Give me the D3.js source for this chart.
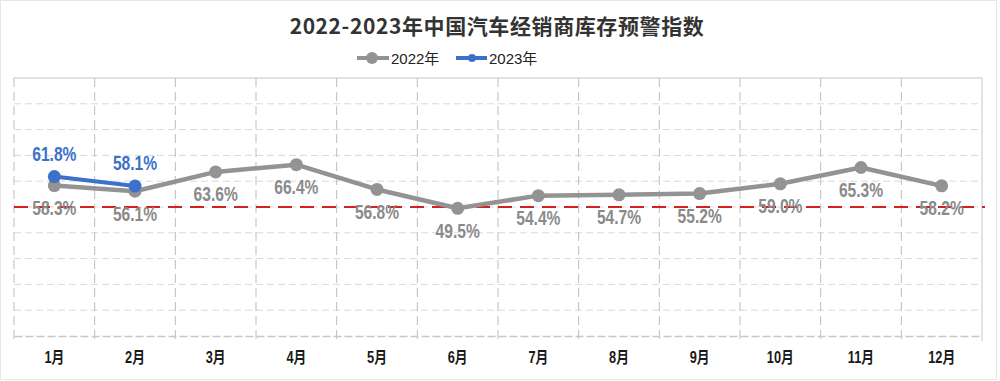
<!DOCTYPE html>
<html><head><meta charset="utf-8">
<script src="https://cdn.jsdelivr.net/npm/d3@7"></script>
<style>
html,body{margin:0;padding:0;background:#fff;}
svg{display:block;}
</style></head>
<body>
<svg id="chart" width="1000" height="381"></svg>
<script>
const months = ["1月","2月","3月","4月","5月","6月","7月","8月","9月","10月","11月","12月"];
const values2022 = [58.3,56.1,63.6,66.4,56.8,49.5,54.4,54.7,55.2,59.0,65.3,58.2];
const values2023 = [61.8,58.1];
const yTicks = [0,10,20,30,40,50,60,70,80,90,100];
const warningLine = 50;
const seriesNames = ["2022年","2023年"];
const titleText = "2022-2023年中国汽车经销商库存预警指数";

const svg = d3.select("#chart");
const W = 1000, H = 381;
const m = {left:14, right:18, top:78, bottom:45};
const iw = W - m.left - m.right, ih = H - m.top - m.bottom;
const narrow = "'Liberation Sans','Arial','Noto Sans CJK SC',sans-serif";
const squeeze = 0.78;

// outer faint frame
svg.append("rect").attr("x",0.5).attr("y",0.5).attr("width",996).attr("height",379)
  .attr("fill","#fff").attr("stroke","#e6e6e6");

const g = svg.append("g").attr("transform",`translate(${m.left},${m.top})`);
const x = d3.scaleBand().domain(months).range([0,iw]).padding(0);
const y = d3.scaleLinear().domain([0,100]).range([ih,0]);

// horizontal gridlines
g.append("g").selectAll("line").data(yTicks.slice(1,-1)).join("line")
  .attr("x1",0).attr("x2",iw).attr("y1",d=>y(d)).attr("y2",d=>y(d))
  .attr("stroke","#d9d9d9").attr("stroke-width",1).attr("stroke-dasharray","7,4");
// top border
g.append("line").attr("x1",0).attr("x2",iw).attr("y1",0).attr("y2",0)
  .attr("stroke","#d9d9d9").attr("stroke-width",1.5);
// vertical gridlines at category boundaries
const bounds = months.map(d=>x(d)).concat([iw]);
g.append("g").selectAll("line").data(bounds).join("line")
  .attr("x1",d=>d).attr("x2",d=>d).attr("y1",0).attr("y2",ih+5)
  .attr("stroke",(d,i)=> (i===bounds.length-1) ? "#c8c8c8" : "#bdbdbd")
  .attr("stroke-width",1)
  .attr("stroke-dasharray",(d,i)=> (i===bounds.length-1) ? null : "9,5");

// x axis
const xAxis = g.append("g").attr("transform",`translate(0,${ih})`)
  .call(d3.axisBottom(x).tickSize(0).tickPadding(16));
xAxis.select(".domain").attr("stroke","#c8c8c8").attr("stroke-width",1.5).attr("stroke-dasharray","8,3");
xAxis.selectAll("text").attr("font-family",narrow).attr("font-weight","bold")
  .attr("font-size",16).attr("fill","#1a1a1a")
  .attr("transform","scale(0.8,1)")
  .attr("x",0);

const cx = d => x(d) + x.bandwidth()/2;
const line = d3.line().x((d,i)=>cx(months[i])).y(d=>y(d));

// warning line
g.append("line").attr("x1",0).attr("x2",iw+3).attr("y1",y(warningLine)).attr("y2",y(warningLine))
  .attr("stroke","#d42020").attr("stroke-width",2.2).attr("stroke-dasharray","14,8");

function labels(sel, data, dy, color){
  sel.selectAll("text").data(data).join("text")
    .attr("transform",(d,i)=>`translate(${cx(months[i])},${y(d)+dy}) scale(${squeeze},1)`)
    .attr("text-anchor","middle").attr("font-family",narrow).attr("font-weight","bold")
    .attr("font-size",20).attr("fill",color)
    .text(d=>d.toFixed(1)+"%");
}

// 2022 series
g.append("path").datum(values2022).attr("d",line).attr("fill","none")
  .attr("stroke","#939393").attr("stroke-width",4.5).attr("stroke-linejoin","round");
g.append("g").selectAll("circle").data(values2022).join("circle")
  .attr("cx",(d,i)=>cx(months[i])).attr("cy",d=>y(d)).attr("r",6.5).attr("fill","#939393");
labels(g.append("g"), values2022, 29.5, "#8a8a8a");

// 2023 series
g.append("path").datum(values2023).attr("d",line).attr("fill","none")
  .attr("stroke","#3b71cb").attr("stroke-width",4).attr("stroke-linejoin","round");
g.append("g").selectAll("circle").data(values2023).join("circle")
  .attr("cx",(d,i)=>cx(months[i])).attr("cy",d=>y(d)).attr("r",6.5).attr("fill","#3b71cb");
labels(g.append("g"), values2023, -16, "#3b71cb");

// title
svg.append("text").attr("x",497).attr("y",34).attr("text-anchor","middle")
  .attr("font-family","'Noto Sans CJK SC','Noto Sans',sans-serif").attr("font-weight","bold")
  .attr("font-size",21).attr("letter-spacing",0.6).attr("fill","#333")
  .text(titleText);

// legend
const legend = [
  {name:seriesNames[0], color:"#939393", x1:357, x2:389, cx:372, r:6, tx:391},
  {name:seriesNames[1], color:"#3b71cb", x1:456, x2:487, cx:472, r:4, tx:489}
];
const lg = svg.append("g");
legend.forEach(l=>{
  lg.append("line").attr("x1",l.x1).attr("x2",l.x2).attr("y1",58).attr("y2",58)
    .attr("stroke",l.color).attr("stroke-width",4);
  lg.append("circle").attr("cx",l.cx).attr("cy",58).attr("r",l.r).attr("fill",l.color);
  lg.append("text").attr("x",l.tx).attr("y",63.5).attr("font-family","'Liberation Sans','Noto Sans CJK SC',sans-serif")
    .attr("font-size",15).attr("fill","#222").text(l.name);
});
</script>
</body></html>
